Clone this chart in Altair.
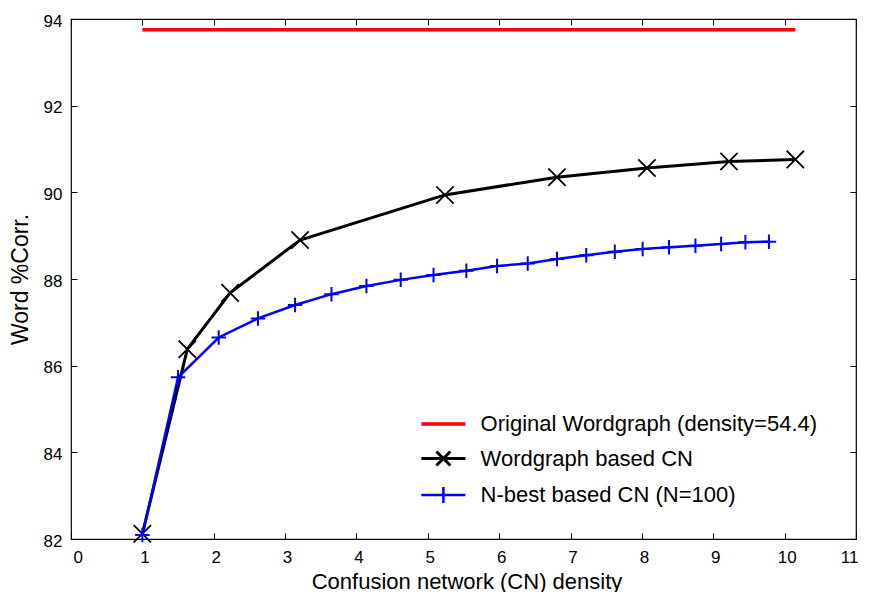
import altair as alt
import pandas as pd

# ---- data ----
x_ticks = list(range(0, 12))
y_ticks = [82, 84, 86, 88, 90, 92, 94]

series_names = ["Original Wordgraph (density=54.4)", "Wordgraph based CN", "N-best based CN (N=100)"]
series_colors = ["#ff0000", "#000000", "#0000ff"]

orig_density = [1.0, 10.15]
orig_corr = [93.75, 93.75]

wg_density = [1.0, 1.63, 2.23, 3.21, 5.24, 6.81, 8.07, 9.22, 10.15]
wg_corr = [82.12, 86.38, 87.68, 88.90, 89.94, 90.35, 90.56, 90.71, 90.76]

nb_density = [1.0, 1.50, 2.07, 2.62, 3.14, 3.65, 4.14, 4.62, 5.08, 5.54, 5.97,
              6.40, 6.81, 7.22, 7.62, 8.01, 8.38, 8.75, 9.11, 9.45, 9.78]
nb_corr = [82.09, 85.73, 86.65, 87.09, 87.40, 87.65, 87.84, 87.98, 88.09, 88.19, 88.30,
           88.36, 88.46, 88.55, 88.63, 88.69, 88.73, 88.77, 88.81, 88.85, 88.86]

rows = []
for name, xs_, ys_ in zip(series_names,
                          [orig_density, wg_density, nb_density],
                          [orig_corr, wg_corr, nb_corr]):
    for a, b in zip(xs_, ys_):
        rows.append({"density": a, "corr": b, "series": name})
df = pd.DataFrame(rows)

# ---- styling ----
FONT = "Liberation Sans"
W, H = 785, 520
X_PATH = "M-1,-1L1,1M-1,1L1,-1"
PLUS_PATH = "M-1,0L1,0M0,-1L0,1"
legend_paths = [
    "M-22,0L22,0",
    "M-22,0L22,0M-7,-7L7,7M-7,7L7,-7",
    "M-22,0L22,0M0,-8L0,8",
]

xs = alt.Scale(domain=[0, 11], nice=False, zero=False)
ys = alt.Scale(domain=[82, 94], nice=False, zero=False)
color_scale = alt.Scale(domain=series_names, range=series_colors)

legend_spec = alt.Legend(
    orient="none", legendX=361.4, legendY=394, title=None, padding=0,
    symbolSize=4, symbolStrokeWidth=2.5, labelFontSize=22, labelFont=FONT,
    labelOffset=26.2, rowPadding=10.5, labelColor="black", labelLimit=0,
)


def tick_axis(orient, offset, values):
    return alt.Axis(orient=orient, offset=offset, values=values, labels=False,
                    domain=False, grid=False, ticks=True, tickSize=6,
                    tickColor="black", tickWidth=1, title=None)


lines = alt.Chart(df).mark_line().encode(
    x=alt.X("density:Q", scale=xs, axis=alt.Axis(
        values=x_ticks, title="Confusion network (CN) density", ticks=False, tickSize=0,
        domain=False, grid=False, labelFontSize=17, labelPadding=10, labelOffset=2,
        labelColor="black", titleFontSize=22, titleX=W / 2 + 3, titleY=49,
        titleBaseline="alphabetic", titleAlign="center", titleFontWeight="normal",
        titleColor="black", labelFont=FONT, titleFont=FONT)),
    y=alt.Y("corr:Q", scale=ys, axis=alt.Axis(
        values=y_ticks, title="Word %Corr.", ticks=False, tickSize=0,
        domain=False, grid=False, labelFontSize=17, labelPadding=9, labelOffset=2,
        labelColor="black", titleFontSize=23, titleX=-51, titleY=H / 2,
        titleAngle=270, titleBaseline="middle", titleAlign="center",
        titleFontWeight="normal", titleColor="black", labelFont=FONT, titleFont=FONT)),
    stroke=alt.Stroke("series:N", scale=color_scale, legend=legend_spec),
    strokeWidth=alt.StrokeWidth("series:N", scale=alt.Scale(domain=series_names, range=[3.5, 2.5, 2.5]),
                                legend=None),
)

legend_layer = alt.Chart(df).mark_point(opacity=0, filled=False).encode(
    x=alt.X("density:Q", scale=xs, axis=None),
    y=alt.Y("corr:Q", scale=ys, axis=None),
    stroke=alt.Stroke("series:N", scale=color_scale, legend=legend_spec),
    shape=alt.Shape("series:N", scale=alt.Scale(domain=series_names, range=legend_paths),
                    legend=legend_spec),
)

wg_pts = alt.Chart(df).transform_filter(alt.datum.series == series_names[1]).mark_point(
    shape=X_PATH, filled=False, stroke="#000000", strokeWidth=1.8, size=300, opacity=1
).encode(
    x=alt.X("density:Q", scale=xs, axis=tick_axis("top", -H, x_ticks)),
    y=alt.Y("corr:Q", scale=ys, axis=tick_axis("right", -W, y_ticks)),
)

nb_pts = alt.Chart(df).transform_filter(alt.datum.series == series_names[2]).mark_point(
    shape=PLUS_PATH, filled=False, stroke="#0000ff", strokeWidth=2, size=210, opacity=1
).encode(
    x=alt.X("density:Q", scale=xs, axis=tick_axis("bottom", -H, x_ticks)),
    y=alt.Y("corr:Q", scale=ys, axis=tick_axis("left", -W, y_ticks)),
)

chart = alt.layer(lines, legend_layer, wg_pts, nb_pts).resolve_axis(
    x="independent", y="independent"
).properties(
    width=W, height=H,
    autosize=alt.AutoSizeParams(type="none"),
    padding={"left": 63, "top": 11, "right": 5, "bottom": 56},
    background="white",
).configure_view(
    stroke="black", strokeWidth=1.2
)

chart.save("out.html", embed_options={"renderer": "svg", "actions": False})
